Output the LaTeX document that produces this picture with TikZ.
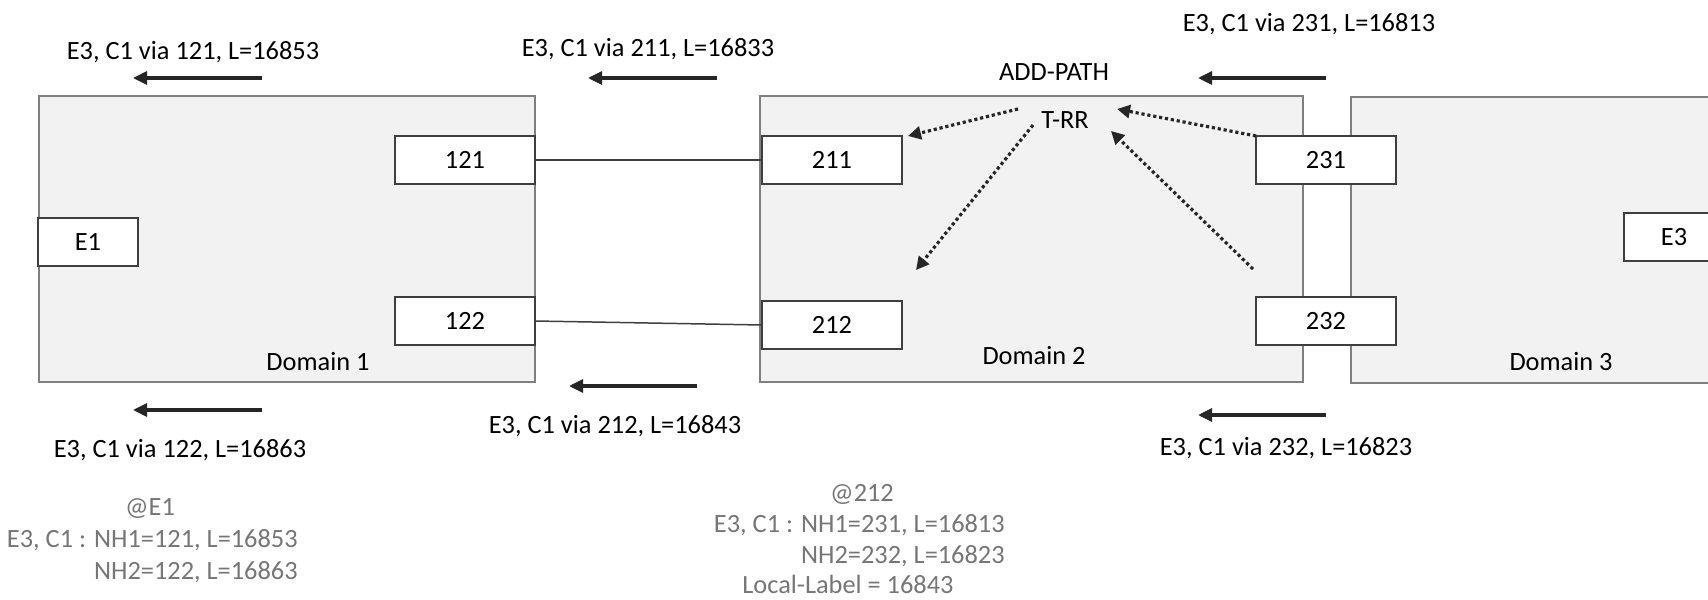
\documentclass[tikz,border=0pt]{standalone}
\usepackage{fontspec}
\setmainfont{Carlito}
\usetikzlibrary{arrows.meta,positioning}
\definecolor{DomFill}{HTML}{F2F2F2}
\definecolor{DomLine}{HTML}{7F7F7F}
\definecolor{BoxLine}{HTML}{3F3F3F}
\definecolor{NoteGray}{HTML}{767676}
\definecolor{ArrBlack}{HTML}{262626}

\begin{document}
\begin{tikzpicture}[x=0.2mm,y=-0.2mm,
  dom/.style={rectangle,draw=DomLine,fill=DomFill,line width=1.1pt,inner sep=0pt,outer sep=0pt,minimum height=57.2mm},
  rtr/.style={rectangle,draw=BoxLine,fill=white,line width=0.85pt,minimum width=28mm,minimum height=9.6mm,inner sep=0pt,outer sep=0pt,font=\fontsize{15}{18}\selectfont},
  lbl/.style={font=\fontsize{15}{18}\selectfont,text=black,inner sep=0pt},
  note/.style={font=\fontsize{15}{18}\selectfont,text=NoteGray,inner sep=0pt},
  link/.style={draw=BoxLine,line width=0.85pt},
  adv/.style={-{Triangle[length=2.8mm,width=2.6mm]},line width=1.8pt,color=ArrBlack},
  refl/.style={-{Triangle[length=2.6mm,width=2.6mm]},line width=1.8pt,dash pattern=on 1.8pt off 1.6pt,color=ArrBlack}]
\useasboundingbox (0,0) rectangle (1708,600);
\clip (0,0) rectangle (1708,600);

% domains
\node[dom,minimum width=99.2mm] (dom1) at (287,239) {};
\node[dom,minimum width=108.6mm] (dom2) at (1031.5,239) {};
\node[dom,minimum width=81.8mm] (dom3) at (1555.5,240) {};
\node[lbl] (dom1lab) at (318,362) {Domain 1};
\node[lbl] (dom2lab) at (1034,356) {Domain 2};
\node[lbl] (dom3lab) at (1561,362) {Domain 3};

% routers
\node[rtr,minimum width=20mm] (e1) at (88,242) {E1};
\node[rtr] (r121) at (465,160) {121};
\node[rtr] (r122) at (465,321) {122};
\node[rtr] (r211) at (832,160) {211};
\node[rtr] (r212) at (832,325) {212};
\node[rtr] (r231) at (1326,160) {231};
\node[rtr] (r232) at (1326,321) {232};
\node[rtr,minimum width=20mm] (e3) at (1674,237) {E3};

\draw[link] (r121.east) -- (r211.west);
\draw[link] (r122.east) -- (r212.west);

% route reflector
\node[lbl] (addpath) at (1054,72) {ADD-PATH};
\node[lbl] (trr) at (1065,120) {T-RR};
\coordinate (t1) at (1018,109);
\coordinate (t2) at (1033,125);
\coordinate (t3) at (1117,109);
\coordinate (t4) at (1111,131);
\coordinate (to212) at (916,270);
\coordinate (from232) at (1253,269);
\draw[refl] (t1) -- ([xshift=1.2mm]r211.north east);
\draw[refl] (t2) -- (to212);
\draw[refl] (r231.north west) -- (t3);
\draw[refl] (from232) -- (t4);

% advertisements
\foreach \nm/\xa/\xb/\y in {a121/262/133/78,a211/717/588/78,a231/1326/1198/78,
                            a122/262/133/410,a212/697/569/386,a232/1326/1198/415}{
  \coordinate (\nm s) at (\xa,\y);
  \coordinate (\nm e) at (\xb,\y);
  \draw[adv] (\nm s) -- (\nm e);
}
\node[lbl] (l121) at (193,52) {E3, C1 via 121, L=16853};
\node[lbl] (l211) at (648,49) {E3, C1 via 211, L=16833};
\node[lbl] (l231) at (1309,24) {E3, C1 via 231, L=16813};
\node[lbl] (l122) at (180,450) {E3, C1 via 122, L=16863};
\node[lbl] (l212) at (615,426) {E3, C1 via 212, L=16843};
\node[lbl] (l232) at (1286,448) {E3, C1 via 232, L=16823};

% tables
\node[note] (e1at) at (150,509) {@E1};
\node[note,anchor=east] (e1nh1) at (298,540) {E3, C1 : NH1=121, L=16853};
\node[note,anchor=east] (e1nh2) at (298,572) {NH2=122, L=16863};
\node[note] (r212at) at (862,494) {@212};
\node[note,anchor=east] (r212nh1) at (1005,525) {E3, C1 : NH1=231, L=16813};
\node[note,anchor=east] (r212nh2) at (1005,556) {NH2=232, L=16823};
\node[note] (r212loc) at (848,584) {Local-Label = 16843};
\end{tikzpicture}
\end{document}
